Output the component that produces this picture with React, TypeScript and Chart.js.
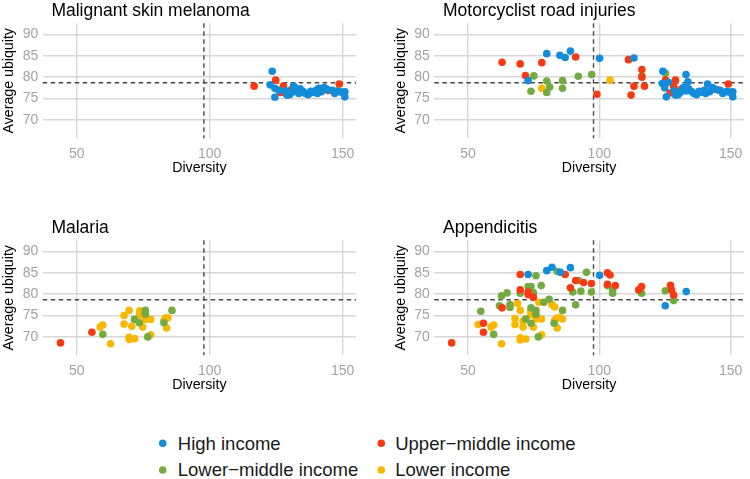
import React, { useEffect, useRef } from 'react';
import { Chart, registerables } from 'chart.js';

Chart.register(...registerables);

type Pt = [number, number];

const FONT = '"Liberation Sans", Arial, Helvetica, sans-serif';
Chart.defaults.font.family = FONT;

const X_TICKS = [50, 100, 150];
const Y_TICKS = [70, 75, 80, 85, 90];
const X_RANGE = [37.2, 155];
const Y_RANGE = [65.7, 92.6];
const DIVERSITY_REF = 97.8;
const UBIQUITY_REF = 78.7;

const INCOME_GROUPS = ['High income', 'Upper\u2212middle income', 'Lower\u2212middle income', 'Lower income'];
const INCOME_COLORS = ['#138dd9', '#f83a12', '#73ab42', '#f9b800'];

// ---- Malignant skin melanoma ----
const melanomaHigh: Pt[] = [
  [123.5, 81.4], [122.7, 78.2], [124.5, 77.4], [124.5, 75.3], [126, 76.9], [128.5, 76.8], [129, 75.8],
  [130, 75.9], [131, 76.5], [131.5, 77.9], [132, 77.6], [133, 76.8], [133.5, 76.2], [134, 77.3], [135, 76.7],
  [136, 76.2], [137, 75.9], [137.5, 76.3], [138, 76.7], [139, 76.5], [140, 76.9], [140.5, 76.2], [141, 77.4],
  [142, 76.6], [143, 77.6], [144, 77.2], [146, 76.9], [147, 76.2], [148.5, 76.7], [149.5, 76.5], [150.8, 76.6],
  [150.8, 75.4],
];
const melanomaUpperMid: Pt[] = [
  [116.7, 77.9], [124.8, 79.3], [126.6, 76.4], [127.7, 77.9], [130.6, 77.0], [144.6, 76.9], [148.7, 78.4],
];
const melanomaLowerMid: Pt[] = [[147.7, 76.8]];
const melanomaLow: Pt[] = [];

// ---- Motorcyclist road injuries ----
const motorHigh: Pt[] = [
  [72.9, 79.2], [80.0, 85.5], [85.0, 85.1], [87.0, 84.6], [89.0, 86.1], [100.1, 84.4], [113.2, 84.5],
  [124.2, 81.4], [124.0, 78.5], [124.9, 77.5], [125.5, 75.4], [126.3, 78.8], [133.0, 80.6], [133.7, 78.9],
  [141.2, 78.4], [128.5, 76.8], [129, 75.8], [130, 75.9], [131, 76.5], [132, 77.6], [133, 76.8], [134, 77.3],
  [135, 76.7], [136, 76.2], [137, 75.9], [138, 76.7], [139, 76.5], [140, 76.9], [140.5, 76.2], [142, 76.6],
  [143, 77.6], [144, 77.2], [146, 76.9], [147, 76.2], [148.5, 76.7], [149.5, 76.5], [150.8, 76.6], [150.8, 75.4],
];
const motorUpperMid: Pt[] = [
  [63.0, 83.5], [69.9, 83.1], [71.9, 80.4], [78.1, 83.4], [91.0, 84.7], [99.1, 76.0], [111.1, 84.1],
  [112.1, 75.8], [113.2, 77.9], [116.2, 81.8], [116.2, 80.0], [117.2, 77.9], [125.2, 79.3], [126.9, 76.3],
  [128.3, 77.9], [129.0, 79.3], [131.0, 77.1], [145.2, 77.0], [149.1, 78.4],
];
const motorLowerMid: Pt[] = [
  [75.1, 80.3], [74.0, 76.7], [80.0, 79.1], [80.0, 76.4], [81.1, 77.7], [86.0, 79.2], [86.0, 77.4],
  [92.0, 80.2], [97.1, 80.6], [116.2, 80.3], [125.2, 80.9],
];
const motorLow: Pt[] = [[78.1, 77.4], [104.1, 79.3]];

// ---- Malaria ----
const malariaHigh: Pt[] = [];
const malariaUpperMid: Pt[] = [[43.9, 68.6], [55.7, 71.1]];
const malariaLowerMid: Pt[] = [
  [59.8, 70.6], [71.7, 74.1], [73.5, 73.3], [75.8, 76.2], [75.8, 75.3], [76.7, 70.0], [82.8, 73.3], [85.8, 76.2],
];
const malariaLow: Pt[] = [
  [58.8, 72.3], [59.8, 72.8], [62.7, 68.4], [67.8, 75.0], [67.8, 73.0], [69.7, 76.2], [69.7, 69.9],
  [69.8, 69.4], [70.7, 72.5], [71.8, 69.6], [73.7, 76.1], [73.7, 75.5], [73.8, 75.1], [74.8, 72.3],
  [75.8, 74.1], [77.8, 74.1], [77.8, 70.5], [82.8, 73.9], [83.3, 74.4], [84.3, 74.5], [83.8, 72.1],
];

// ---- Appendicitis ----
const appendHigh: Pt[] = [
  [72.9, 84.6], [80.0, 85.5], [82.0, 86.3], [85.2, 85.1], [89.0, 86.2], [100.1, 84.4], [125.1, 77.3], [133.1, 80.6],
];
const appendUpperMid: Pt[] = [
  [43.8, 68.6], [55.9, 73.2], [55.9, 71.1], [63.0, 76.8], [69.9, 84.6], [69.9, 81.0], [72.9, 80.5],
  [72.9, 79.9], [74.9, 79.3], [87.0, 84.6], [89.0, 81.5], [91.0, 83.2], [94.0, 82.7], [97.0, 82.5],
  [103.1, 85.0], [104.1, 84.5], [103.1, 82.3], [106.1, 82.0], [115.0, 81.0], [116.1, 81.8], [127.1, 82.1],
  [127.5, 81.0], [128.3, 79.8],
];
const appendLowerMid: Pt[] = [
  [54.9, 76.0], [59.8, 70.6], [62.0, 77.3], [62.8, 79.6], [64.9, 80.3], [66.0, 77.6], [66.0, 76.9],
  [69.9, 80.2], [72.0, 74.2], [72.9, 81.8], [74.0, 81.8], [74.0, 76.8], [74.0, 73.2], [74.9, 80.4],
  [75.9, 84.3], [75.9, 76.2], [75.9, 75.3], [76.8, 70.0], [77.9, 82.0], [78.9, 78.1], [80.9, 78.8],
  [82.8, 73.2], [84.0, 85.3], [86.0, 76.2], [89.9, 80.5], [91.0, 77.5], [92.1, 83.2], [93.0, 80.7],
  [95.1, 85.1], [97.0, 80.5], [103.1, 82.0], [105.1, 81.0], [105.1, 80.2], [116.1, 80.2], [125.1, 80.8],
  [128.3, 78.5],
];
const appendLow: Pt[] = [
  [53.9, 72.9], [58.8, 72.3], [59.8, 72.8], [62.8, 68.4], [67.9, 74.3], [67.9, 72.9], [68.9, 77.8],
  [69.9, 76.2], [69.9, 69.8], [69.9, 69.3], [71.0, 73.7], [71.0, 72.3], [72.0, 69.5], [74.0, 76.2],
  [74.0, 75.5], [74.0, 75.2], [74.9, 72.3], [76.0, 74.2], [77.0, 78.1], [78.0, 74.2], [78.0, 70.5],
  [81.9, 77.6], [83.0, 77.0], [83.0, 73.9], [84.0, 74.4], [85.0, 74.5], [84.0, 72.1], [86.0, 74.2],
];

const GRID_COLOR = '#d7d7d7';
const TICK_COLOR = '#a3a3a3';

const facetDecor = {
  id: 'facetDecor',
  beforeDatasetsDraw(chart: any) {
    const { ctx, chartArea, scales } = chart;
    const { left, right, top, bottom } = chartArea;
    ctx.save();
    ctx.strokeStyle = '#474747';
    ctx.lineWidth = 1.4;
    ctx.setLineDash([4.5, 3.5]);
    const px = scales.x.getPixelForValue(DIVERSITY_REF);
    ctx.beginPath();
    ctx.moveTo(px, top);
    ctx.lineTo(px, bottom);
    ctx.stroke();
    const py = scales.y.getPixelForValue(UBIQUITY_REF);
    ctx.beginPath();
    ctx.moveTo(left, py);
    ctx.lineTo(right, py);
    ctx.stroke();
    ctx.restore();
  },
  afterDraw(chart: any, _args: any, opts: any) {
    const { ctx, chartArea } = chart;
    ctx.save();
    ctx.font = `17.5px ${FONT}`;
    ctx.fillStyle = '#000';
    ctx.textBaseline = 'alphabetic';
    ctx.textAlign = 'left';
    ctx.fillText(opts.title, chartArea.left + 8.7, chartArea.top - 7.8);
    ctx.restore();
  },
};

type PanelProps = { title: string; groups: Pt[][]; left: number; top: number; padLeft: number; padRight: number };

function Panel({ title, groups, left, top, padLeft, padRight }: PanelProps) {
  const ref = useRef<HTMLCanvasElement>(null);
  useEffect(() => {
    const chart = new Chart(ref.current!, {
      type: 'scatter',
      data: {
        datasets: groups.map((pts, i) => ({
          label: INCOME_GROUPS[i],
          data: pts.map(([x, y]) => ({ x, y })),
          backgroundColor: INCOME_COLORS[i],
          borderWidth: 0,
          pointRadius: 3.8,
          pointHoverRadius: 3.8,
        })),
      },
      options: {
        responsive: false,
        animation: false,
        events: [],
        layout: { padding: { top: 23.3, left: padLeft, right: padRight, bottom: 0 } },
        plugins: {
          legend: { display: false },
          tooltip: { enabled: false },
          facetDecor: { title },
        } as any,
        scales: {
          x: {
            type: 'linear',
            min: X_RANGE[0],
            max: X_RANGE[1],
            afterBuildTicks: (s: any) => { s.ticks = X_TICKS.map((v) => ({ value: v })); },
            afterFit: (s: any) => { s.height = 46.7; },
            grid: { color: GRID_COLOR, lineWidth: 1.4, drawTicks: false },
            border: { display: false },
            ticks: { color: TICK_COLOR, font: { size: 14 }, padding: 7.5, maxRotation: 0 },
            title: { display: true, text: 'Diversity', color: '#000', font: { size: 14.2 }, padding: { top: 0, bottom: 8.0 } },
          },
          y: {
            type: 'linear',
            min: Y_RANGE[0],
            max: Y_RANGE[1],
            afterBuildTicks: (s: any) => { s.ticks = Y_TICKS.map((v) => ({ value: v })); },
            afterFit: (s: any) => { s.width = 42.7; },
            grid: { color: GRID_COLOR, lineWidth: 1.4, drawTicks: false },
            border: { display: false },
            ticks: { color: TICK_COLOR, font: { size: 14 }, padding: 4.4 },
            title: { display: true, text: 'Average ubiquity', color: '#000', font: { size: 14.2 }, padding: { top: 1, bottom: 0 } },
          },
        },
      },
      plugins: [facetDecor as any],
    });
    return () => chart.destroy();
  }, []);
  return (
    <canvas
      ref={ref}
      width={375}
      height={185}
      style={{ position: 'absolute', left, top, width: 375, height: 185 }}
    />
  );
}

function Legend() {
  const rows = [
    { y: 30, cy: 23.3 },
    { y: 56, cy: 50 },
  ];
  const cols = [{ cx: 162.7, tx: 177.8 }, { cx: 381.3, tx: 395.2 }];
  const items = [
    { g: 0, r: 0, c: 0 },
    { g: 1, r: 0, c: 1 },
    { g: 2, r: 1, c: 0 },
    { g: 3, r: 1, c: 1 },
  ];
  return (
    <svg width={750} height={59} style={{ position: 'absolute', left: 0, top: 420 }}>
      {items.map((it) => (
        <g key={it.g}>
          <circle cx={cols[it.c].cx} cy={rows[it.r].cy} r={3.8} fill={INCOME_COLORS[it.g]} />
          <text x={cols[it.c].tx} y={rows[it.r].y} fontFamily={FONT} fontSize={18.5} fill="#1a1a1a">
            {INCOME_GROUPS[it.g]}
          </text>
        </g>
      ))}
    </svg>
  );
}

export default function App() {
  return (
    <div style={{ position: 'fixed', left: 0, top: 0, width: 750, height: 479, background: '#fff', overflow: 'hidden' }}>
      <Panel title="Malignant skin melanoma" groups={[melanomaHigh, melanomaUpperMid, melanomaLowerMid, melanomaLow]} left={0} top={0} padLeft={0} padRight={19} />
      <Panel title="Motorcyclist road injuries" groups={[motorHigh, motorUpperMid, motorLowerMid, motorLow]} left={375} top={0} padLeft={16.6} padRight={2.3} />
      <Panel title="Malaria" groups={[malariaHigh, malariaUpperMid, malariaLowerMid, malariaLow]} left={0} top={216.7} padLeft={0} padRight={19} />
      <Panel title="Appendicitis" groups={[appendHigh, appendUpperMid, appendLowerMid, appendLow]} left={375} top={216.7} padLeft={16.6} padRight={2.3} />
      <Legend />
    </div>
  );
}
